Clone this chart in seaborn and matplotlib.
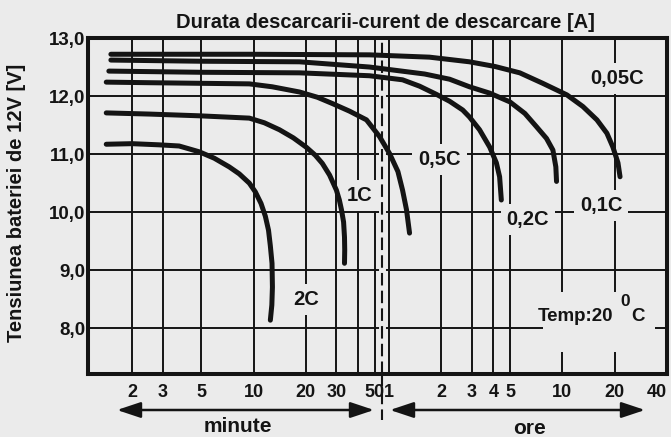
import matplotlib
matplotlib.use("Agg")
import matplotlib.pyplot as plt
import numpy as np
import pandas as pd
import seaborn as sns
from matplotlib.ticker import FixedLocator, NullFormatter
from matplotlib.patches import Rectangle

# Discharge duration (minutes) and battery voltage for each discharge current
t_005c = [1.51, 9.46, 46.5, 103, 175, 245, 341, 462, 637, 787, 948, 1082, 1172, 1253, 1288]
v_005c = [12.72, 12.72, 12.71, 12.67, 12.59, 12.51, 12.40, 12.22, 12.02, 11.82, 11.59, 11.36, 11.12, 10.85, 10.61]

t_01c = [1.51, 4.87, 18.4, 46.5, 96.6, 134.6, 175, 229, 299, 365, 426, 486, 529, 550, 555]
v_01c = [12.62, 12.60, 12.59, 12.50, 12.38, 12.29, 12.16, 12.05, 11.90, 11.70, 11.47, 11.27, 11.07, 10.78, 10.53]

t_02c = [1.47, 4.87, 18.4, 46.5, 72.1, 90.4, 112.8, 134.6, 160, 175, 200, 229, 250, 261, 267]
v_02c = [12.43, 12.41, 12.40, 12.35, 12.28, 12.17, 12.03, 11.91, 11.76, 11.64, 11.42, 11.12, 10.85, 10.61, 10.21]

t_05c = [1.42, 2.51, 4.87, 9.46, 12.8, 18.4, 23.3, 28.5, 35.7, 44.7, 53.2, 60.7, 67.8, 72.1, 76.0, 79.1]
v_05c = [12.24, 12.23, 12.22, 12.21, 12.16, 12.07, 11.98, 11.87, 11.74, 11.59, 11.30, 11.01, 10.70, 10.38, 10.04, 9.64]

t_1c = [1.42, 2.51, 4.87, 9.46, 11.54, 14.1, 16.96, 20.1, 22.7, 24.9, 27.4, 30.0, 31.2, 32.1, 33.0, 33.4, 33.5, 33.4]
v_1c = [11.71, 11.69, 11.66, 11.62, 11.54, 11.42, 11.28, 11.12, 10.98, 10.84, 10.64, 10.38, 10.21, 10.04, 9.83, 9.57, 9.35, 9.12]

t_2c = [1.42, 2.0, 2.86, 3.73, 4.87, 5.94, 7.25, 8.28, 9.46, 10.24, 11.05, 11.70, 12.2, 12.5, 12.78, 12.85, 12.75, 12.5]
v_2c = [11.17, 11.18, 11.16, 11.14, 11.04, 10.93, 10.78, 10.66, 10.50, 10.35, 10.15, 9.93, 9.69, 9.42, 9.12, 8.71, 8.40, 8.14]

rate_names = ["0,05C", "0,1C", "0,2C", "0,5C", "1C", "2C"]
# label anchor (minutes, volts) for each curve name
label_t = [1236, 1000, 380, 118, 40.8, 20.2]
label_v = [12.31, 10.12, 9.88, 10.90, 10.28, 8.49]

# x axis: minutes on the left part, hours on the right part
minute_ticks = [2, 3, 5, 10, 20, 30, 50]
minute_labels = ["2", "3", "5", "10", "20", "30", "50"]
hour_ticks = [1, 2, 3, 4, 5, 10, 20, 40]
hour_labels = ["1", "2", "3", "4", "5", "10", "20", "40"]
extra_minute_grid = [40]
separator_min = 55

volt_ticks = [8, 9, 10, 11, 12, 13]
volt_labels = ["8,0", "9,0", "10,0", "11,0", "12,0", "13,0"]

title = "Durata descarcarii-curent de descarcare [A]"
ylabel = "Tensiunea bateriei de 12V [V]"

BG = "#ebebeb"
INK = "#141414"

sns.set_theme(style="white")
plt.rcParams["font.family"] = ["Liberation Sans", "DejaVu Sans"]
plt.rcParams["font.weight"] = "bold"
plt.rcParams["text.color"] = INK

W, H = 671, 437
fig = plt.figure(figsize=(W / 100, H / 100), dpi=100, facecolor=BG)
ax = fig.add_axes([88 / W, 1 - 374 / H, (667 - 88) / W, (374 - 38) / H])
ax.set_facecolor(BG)

series = [(t_005c, v_005c), (t_01c, v_01c), (t_02c, v_02c),
          (t_05c, v_05c), (t_1c, v_1c), (t_2c, v_2c)]
df = pd.concat(
    [pd.DataFrame({"t": t, "v": v, "rate": name}) for name, (t, v) in zip(rate_names, series)],
    ignore_index=True,
)

sns.lineplot(data=df, x="t", y="v", units="rate", estimator=None, sort=False,
             color=INK, lw=3.6, solid_capstyle="round", solid_joinstyle="round",
             ax=ax, zorder=4)

ax.set_xscale("log")
ax.set_xlim(1.115, 2400)
ax.set_ylim(7.213, 13.0)

xt = minute_ticks + [h * 60 for h in hour_ticks]
xl = minute_labels + hour_labels
ax.set_xticks(xt, labels=xl)
ax.xaxis.set_minor_locator(FixedLocator(extra_minute_grid))
ax.xaxis.set_minor_formatter(NullFormatter())
ax.set_yticks(volt_ticks, labels=volt_labels)

ax.set_axisbelow(True)
ax.grid(True, which="both", axis="x", color=INK, lw=1.4)
ax.grid(True, which="major", axis="y", color=INK, lw=1.4)

ax.tick_params(axis="both", which="both", length=0)
ax.tick_params(axis="x", pad=7, labelsize=13, labelcolor=INK)
ax.tick_params(axis="y", pad=2, labelsize=13.5, labelcolor=INK)
for lab in ax.get_xticklabels() + ax.get_yticklabels():
    lab.set_fontweight("bold")
ax.get_xticklabels()[-1].set_horizontalalignment("right")

for sp in ax.spines.values():
    sp.set_visible(True)
    sp.set_color(INK)
    sp.set_linewidth(2.9)

ax.set_xlabel("")
ax.set_ylabel(ylabel, fontsize=14.5, fontweight="bold", color=INK)
ax.yaxis.set_label_coords((26 - 88) / 579, (374 - 203) / 336)

ax.text((385 - 88) / 579, (374 - 22) / 336, title, transform=ax.transAxes,
        ha="center", va="center", fontsize=14.5, fontweight="bold", color=INK)

# separator between minutes and hours
ax.axvline(separator_min, color=BG, lw=5, zorder=1)
ax.axvline(separator_min, color=INK, lw=1.5, ls=(0, (6, 2.5)), zorder=2)
ax.plot([separator_min, separator_min], [0, -0.137], transform=ax.get_xaxis_transform(),
        color=INK, lw=1.5, ls=(0, (6, 2.5)), clip_on=False)

# curve names
box = dict(boxstyle="square,pad=0.3", fc=BG, ec="none")
for name, lt, lv in zip(rate_names, label_t, label_v):
    ax.text(lt, lv, name, ha="center", va="center", fontsize=14.5, fontweight="bold",
            color=INK, bbox=box, zorder=3)

# temperature note
ax.add_patch(Rectangle(((543 - 88) / 579, (374 - 352) / 336), 112 / 579, 60 / 336,
                       transform=ax.transAxes, fc=BG, ec="none", zorder=1.5))
ax.text(713, 8.21, "Temp:20", ha="center", va="center", fontsize=13.5,
        fontweight="bold", color=INK, zorder=3)
ax.text(1380, 8.47, "0", ha="center", va="center", fontsize=12.5,
        fontweight="bold", color=INK, zorder=3)
ax.text(1640, 8.21, "C", ha="center", va="center", fontsize=13.5,
        fontweight="bold", color=INK, zorder=3)

# minute / hour range arrows
arrow_style = "<|-|>,head_length=0.6,head_width=0.2"
ax.annotate("", xy=(117, H - 410), xytext=(374, H - 410), xycoords="figure pixels",
            textcoords="figure pixels",
            arrowprops=dict(arrowstyle=arrow_style, color=INK, lw=1.8, mutation_scale=24,
                            shrinkA=0, shrinkB=0))
ax.annotate("", xy=(390, H - 410), xytext=(645, H - 410), xycoords="figure pixels",
            textcoords="figure pixels",
            arrowprops=dict(arrowstyle=arrow_style, color=INK, lw=1.8, mutation_scale=24,
                            shrinkA=0, shrinkB=0))
fig.text(238 / W, 1 - 426 / H, "minute", ha="center", va="center", fontsize=15,
         fontweight="bold", color=INK)
fig.text(529 / W, 1 - 428 / H, "ore", ha="center", va="center", fontsize=15,
         fontweight="bold", color=INK)

fig.savefig("out.png", dpi=100, facecolor=BG)
